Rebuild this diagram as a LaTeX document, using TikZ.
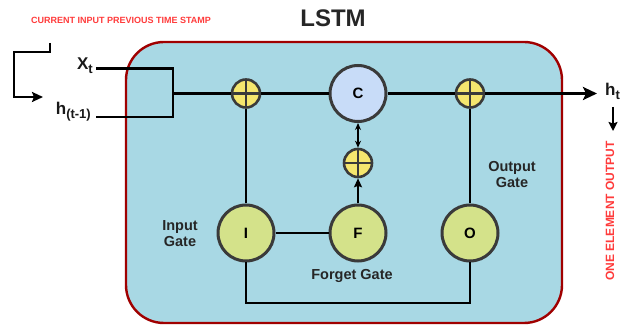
\documentclass[tikz,border=0pt]{standalone}
\usepackage{fontspec}
\setmainfont{Liberation Sans}
\usetikzlibrary{arrows.meta}
\definecolor{boxfill}{HTML}{A8D8E4}
\definecolor{boxline}{HTML}{A00000}
\definecolor{gatefill}{HTML}{D4E28A}
\definecolor{cfill}{HTML}{C8DCF8}
\definecolor{plusfill}{HTML}{F5E66E}
\definecolor{ring}{HTML}{3A3A3A}
\definecolor{redtext}{HTML}{FF3B3B}
\newcommand{\mysub}[1]{\raisebox{-4pt}{\fontsize{13}{13}\selectfont #1}}
\tikzset{
  wire/.style={line width=2.6pt, black},
  gate/.style={circle, draw=ring, line width=3pt, fill=gatefill, minimum size=56pt, inner sep=0pt, font=\fontsize{15}{15}\selectfont\bfseries},
  cell/.style={circle, draw=ring, line width=3pt, fill=cfill, minimum size=56pt, inner sep=0pt, font=\fontsize{15}{15}\selectfont\bfseries},
  plusnode/.style={circle, draw=ring, line width=2.6pt, fill=plusfill, minimum size=28pt, inner sep=0pt,
    path picture={\draw[ring, line width=2.2pt] (path picture bounding box.north) -- (path picture bounding box.south)
      (path picture bounding box.west) -- (path picture bounding box.east);}},
  lbl/.style={font=\fontsize{14.5}{16}\selectfont\bfseries, text=black!85, align=center, inner sep=0pt},
  redlbl/.style={font=\fontsize{9}{9}\selectfont\bfseries, text=redtext, inner sep=0pt},
  iolbl/.style={font=\fontsize{17}{17}\selectfont\bfseries, inner sep=0pt, text=black!90},
}
\begin{document}
\begin{tikzpicture}[x=1pt,y=-1pt]
\useasboundingbox (0,0) rectangle (620,328);
\fill[white] (0,0) rectangle (620,328);
% main box
\draw[boxline, line width=2.4pt, fill=boxfill, rounded corners=38pt] (126,42) rectangle (562,323);
% title and red notes
\node[font=\fontsize{24}{24}\selectfont\bfseries, text=black!85, inner sep=0pt] (title) at (333,18) {LSTM};
\node[redlbl] (note1) at (121,20) {CURRENT INPUT PREVIOUS TIME STAMP};
\node[redlbl, font=\fontsize{12}{12}\selectfont\bfseries, rotate=90] (note2) at (610,211) {ONE ELEMENT OUTPUT};
% inputs
\node[iolbl, anchor=base east] (xt) at (93,70) {X\mysub{t}};
\node[iolbl, anchor=base east] (hprev) at (91,115) {h\mysub{(t-1)}};
\coordinate (xs) at (96,68.5);
\coordinate (hs) at (96,117);
\coordinate (ja) at (173,68.5);
\coordinate (jb) at (173,117);
\coordinate (j) at (173,93.5);
% bracket
\coordinate (b0) at (50,43);
\coordinate (b1) at (14,52);
\coordinate (b2) at (43,97);
\draw[line width=2.2pt, -{Stealth[length=11pt,width=10pt,inset=2pt]}] (b0) |- (b1) |- (b2);
% nodes
\node[plusnode] (p1) at (246,93.5) {};
\node[cell] (C) at (358,93.5) {C};
\node[plusnode] (p2) at (470,93.5) {};
\node[plusnode] (p3) at (358,163) {};
\node[gate] (I) at (246,233) {I};
\node[gate] (F) at (358,233) {F};
\node[gate] (O) at (470,233) {O};
\coordinate (out) at (597,93.5);
\coordinate (bot) at (358,303);
\node[iolbl, anchor=base west] (ht) at (605,96) {h\mysub{t}};
\coordinate (d0) at (613,107);
\coordinate (d1) at (613,131);
% wires
\draw[wire] (xs) -- (ja) -- (jb) -- (hs);
\draw[wire] (j) -- (p1) -- (C) -- (p2);
\draw[wire, -{Stealth[length=14pt,width=13pt,inset=3pt]}] (p2) -- (out);
\draw[wire] (I) -- (p1);
\draw[wire] (O) -- (p2);
\draw[wire] (I) -- (F);
\draw[wire, -{Stealth[length=9pt,width=8pt,inset=1.5pt]}] (F) -- (p3);
\draw[line width=1.2pt, {Stealth[length=7pt,width=6pt]}-{Stealth[length=7pt,width=6pt]}] (p3) -- (C);
\draw[wire] (I.south) |- (bot) -| (O.south);
\draw[line width=2pt, -{Stealth[length=9pt,width=9pt,inset=1.5pt]}] (d0) -- (d1);
% labels
\node[lbl] (lin) at (180,234) {Input\\Gate};
\node[lbl] (lfo) at (352,276) {Forget Gate};
\node[lbl] (lou) at (512,175) {Output\\Gate};
\end{tikzpicture}
\end{document}
